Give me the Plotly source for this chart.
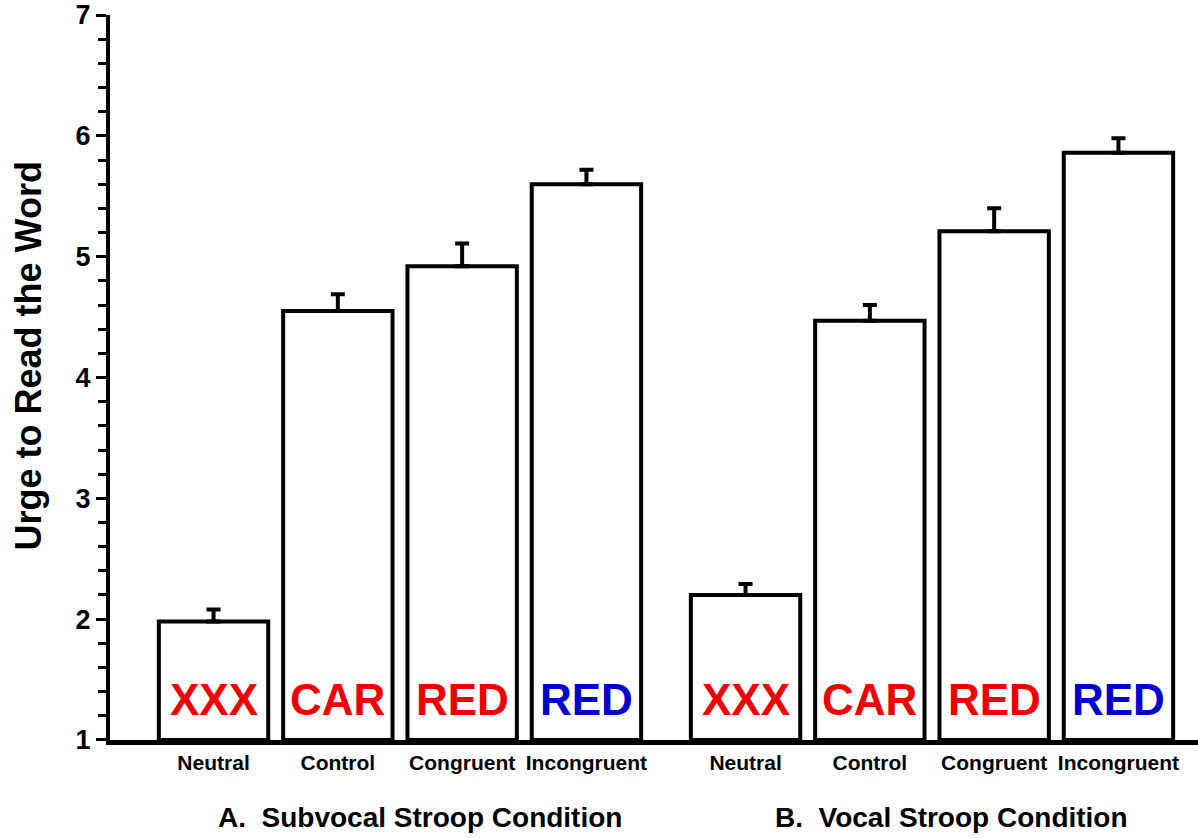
import plotly.graph_objects as go

# ---- data ----
categories = ["Neutral", "Control", "Congruent", "Incongruent"]
stimulus_words = ["XXX", "CAR", "RED", "RED"]
word_colors = ["#ee0000", "#ee0000", "#ee0000", "#0000cc"]

group_titles = ["A.  Subvocal Stroop Condition", "B.  Vocal Stroop Condition"]
subvocal_means = [1.98, 4.55, 4.92, 5.60]
subvocal_errors = [0.10, 0.14, 0.19, 0.12]
vocal_means = [2.20, 4.47, 5.21, 5.86]
vocal_errors = [0.09, 0.13, 0.19, 0.12]

y_ticks = [1, 2, 3, 4, 5, 6, 7]

# ---- layout helpers ----
GROUP_OFFSET = 4.28
FONT = "Liberation Sans, Arial, sans-serif"

groups = [(subvocal_means, subvocal_errors), (vocal_means, vocal_errors)]

fig = go.Figure()
tickvals, ticktext = [], []
annotations = []

for g, (means, errs) in enumerate(groups):
    xs = [g * GROUP_OFFSET + i for i in range(len(categories))]
    fig.add_trace(go.Bar(
        x=xs, y=[m - 1 for m in means], base=1,
        width=0.88,
        marker=dict(color="white", line=dict(color="black", width=4)),
        error_y=dict(type="data", symmetric=False, array=errs,
                     arrayminus=[0] * len(errs), color="black",
                     thickness=4, width=7),
        showlegend=False, hoverinfo="skip",
    ))
    tickvals += xs
    ticktext += categories
    for x, w, c in zip(xs, stimulus_words, word_colors):
        annotations.append(dict(
            x=x, y=1.338, xref="x", yref="y", text=w, showarrow=False,
            font=dict(family=FONT, size=44, color=c, weight="bold"),
            xanchor="center", yanchor="middle"))
    annotations.append(dict(
        x=g * GROUP_OFFSET + 1.66, y=0, xref="x", yref="paper",
        yshift=-77, text=group_titles[g], showarrow=False,
        font=dict(family=FONT, size=28, color="black", weight="bold"),
        xanchor="center", yanchor="middle"))

annotations.append(dict(
    x=0, y=0.529, xref="paper", yref="paper", xshift=-82,
    text="Urge to Read the Word", textangle=-90, showarrow=False,
    font=dict(family=FONT, size=36, color="black", weight="bold"),
    xanchor="center", yanchor="middle"))

fig.update_layout(
    width=1198, height=838,
    margin=dict(l=110, r=0, t=12, b=98),
    plot_bgcolor="white", paper_bgcolor="white",
    annotations=annotations,
    xaxis=dict(
        range=[-0.833, 7.92], tickvals=tickvals, ticktext=ticktext,
        showgrid=False, zeroline=False, showline=True, linecolor="black",
        linewidth=5, ticks="", ticklabelstandoff=0,
        tickfont=dict(family=FONT, size=21, color="black", weight="bold"),
    ),
    yaxis=dict(
        range=[0.9999, 7.0001], tickvals=y_ticks, showgrid=False,
        zeroline=False, showline=True, linecolor="black", linewidth=4,
        ticks="outside", ticklen=10, tickwidth=3, tickcolor="black",
        ticksuffix="\u00a0\u00a0", ticklabeloverflow="allow",
        minor=dict(dtick=0.2, tick0=1, ticks="outside", ticklen=8,
                   tickwidth=3, tickcolor="black", showgrid=False),
        tickfont=dict(family=FONT, size=27, color="black", weight="bold"),
    ),
)

fig.write_html("out.html", config={"displayModeBar": False},
               post_script="document.body.style.margin='0px';")
